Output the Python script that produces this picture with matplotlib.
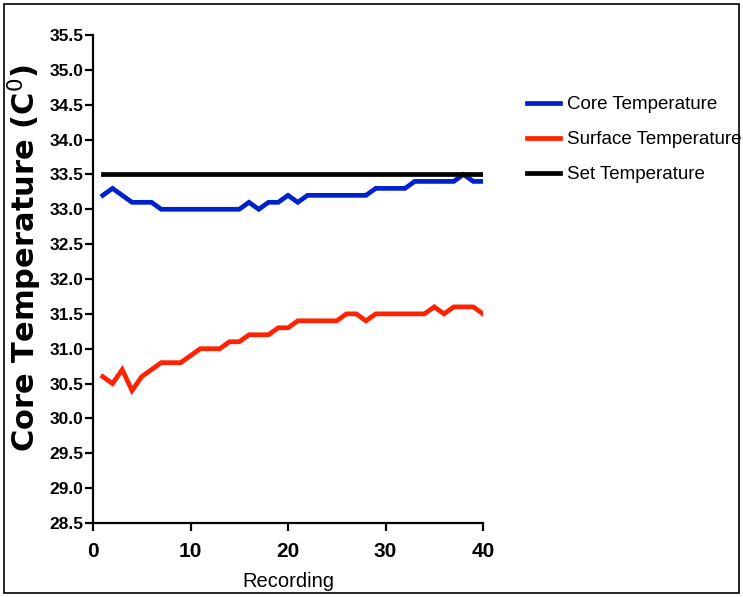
import numpy as np
import matplotlib.pyplot as plt
from matplotlib.patches import Rectangle

recording = np.arange(1, 41)

core_temp = [33.2, 33.3, 33.2, 33.1, 33.1, 33.1, 33.0, 33.0, 33.0, 33.0,
             33.0, 33.0, 33.0, 33.0, 33.0, 33.1, 33.0, 33.1, 33.1, 33.2,
             33.1, 33.2, 33.2, 33.2, 33.2, 33.2, 33.2, 33.2, 33.3, 33.3,
             33.3, 33.3, 33.4, 33.4, 33.4, 33.4, 33.4, 33.5, 33.4, 33.4]

surface_temp = [30.6, 30.5, 30.7, 30.4, 30.6, 30.7, 30.8, 30.8, 30.8, 30.9,
                31.0, 31.0, 31.0, 31.1, 31.1, 31.2, 31.2, 31.2, 31.3, 31.3,
                31.4, 31.4, 31.4, 31.4, 31.4, 31.5, 31.5, 31.4, 31.5, 31.5,
                31.5, 31.5, 31.5, 31.5, 31.6, 31.5, 31.6, 31.6, 31.6, 31.5]

set_temp = [33.5] * 40

yticks = np.arange(28.5, 35.51, 0.5)
xticks = [0, 10, 20, 30, 40]

plt.rcParams['font.family'] = ['Liberation Sans', 'DejaVu Sans']

fig = plt.figure(figsize=(7.43, 5.97), dpi=100)
ax = fig.add_axes([93 / 743, 1 - 523 / 597, 390 / 743, 488 / 597])

ax.plot(recording, core_temp, color="#0022cc", lw=3.4, label="Core Temperature",
        solid_joinstyle="miter")
ax.plot(recording, surface_temp, color="#ff2200", lw=3.4, label="Surface Temperature",
        solid_joinstyle="miter")
ax.plot(recording, set_temp, color="black", lw=3.4, label="Set Temperature")

ax.set_xlim(0, 40)
ax.set_ylim(28.5, 35.5)
ax.set_xticks(xticks)
ax.set_yticks(yticks)
ax.set_yticklabels([f"{v:.1f}" for v in yticks])

for side in ["top", "right"]:
    ax.spines[side].set_visible(False)
for side in ["left", "bottom"]:
    ax.spines[side].set_linewidth(1.6)
ax.tick_params(direction="out", length=6, width=1.6)
ax.tick_params(axis="y", labelsize=12.5, pad=1)
ax.tick_params(axis="x", labelsize=15, pad=8)
for lbl in ax.get_xticklabels() + ax.get_yticklabels():
    lbl.set_fontweight("bold")

ax.set_xlabel("Recording", fontsize=14.5)
ax.xaxis.set_label_coords(0.5, -0.1)
ax.set_ylabel(r"Core Temperature (C$^{0}$)", fontsize=22,
              fontweight="bold", family="DejaVu Sans")
ax.yaxis.set_label_coords(-0.125, 0.543)

ax.legend(loc="upper left", bbox_to_anchor=(1.094, 0.89), frameon=False,
          fontsize=13.5, handlelength=1.76, handletextpad=0.35, labelspacing=0.95,
          borderaxespad=0)

fig.patches.append(Rectangle((4 / 743, 4 / 597), 735 / 743, 589 / 597,
                             transform=fig.transFigure, fill=False,
                             edgecolor="black", lw=1.2))

fig.savefig("out.png", dpi=100)
